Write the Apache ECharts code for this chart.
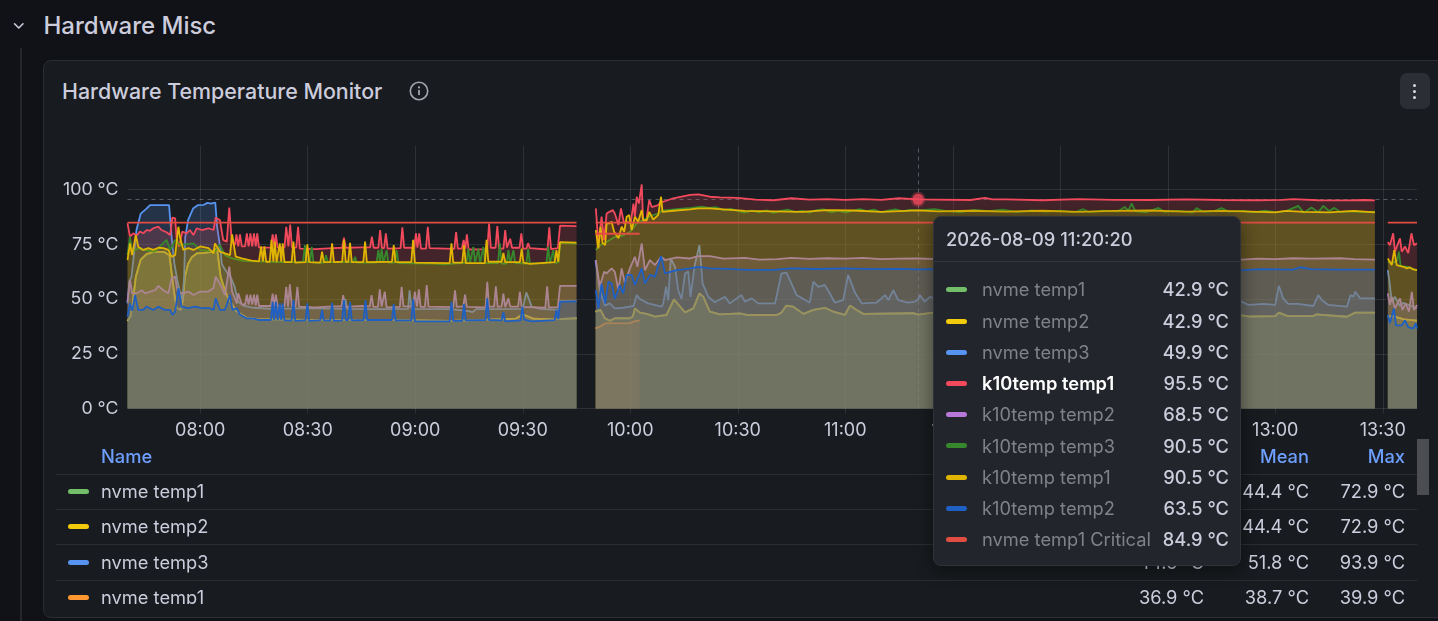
<!DOCTYPE html>
<html>
<head>
<meta charset="utf-8">
<script src="https://cdn.jsdelivr.net/npm/echarts@6/dist/echarts.min.js"></script>
<style>
html,body{margin:0;padding:0;width:1438px;height:621px;overflow:hidden;background:#111217;font-family:Inter,"Noto Sans",sans-serif;color:#ccccdc}
.abs{position:absolute}
#panel{left:43px;top:60px;width:1440px;height:556px;background:#181b1f;border:1px solid #2a2d32;border-radius:8px;box-sizing:content-box}
#chart{left:0;top:0;width:1438px;height:621px}
#tableClip{left:44px;top:440px;width:1373px;height:164px;overflow:hidden}
.cell{position:absolute;white-space:nowrap;font-size:18.3px;line-height:20px;color:#ccccdc}
.head{color:#6e9fff;font-weight:500}
.sw{position:absolute;width:21px;height:5px;border-radius:3px}
#tip{left:933px;top:216px;width:308px;height:350px;background:#22252b;border:1px solid #2f3238;border-radius:8px;box-shadow:0 4px 18px rgba(0,0,0,.45);box-sizing:border-box}
</style>
</head>
<body>
<div class="abs" style="left:20px;top:48px;width:2px;height:573px;background:#24262b"></div>
<svg class="abs" style="left:11px;top:18px" width="16" height="16" viewBox="0 0 16 16"><path d="M3.5 5.8 L7.8 10 L12 5.8" fill="none" stroke="#ccccdc" stroke-width="1.6" stroke-linecap="round" stroke-linejoin="round"/></svg>
<div class="abs" style="left:43.5px;top:11px;font-size:24px;line-height:29px;font-weight:500;color:#ccccdc">Hardware Misc</div>
<div class="abs" id="panel"></div>
<div class="abs" style="left:62px;top:78px;font-size:21.4px;line-height:26px;font-weight:500;color:#ccccdc">Hardware Temperature Monitor</div>
<svg class="abs" style="left:409px;top:81px" width="20" height="20" viewBox="0 0 20 20"><circle cx="10" cy="10" r="8.7" fill="none" stroke="#a5a6b0" stroke-width="1.6"/><circle cx="10" cy="6.4" r="1.1" fill="#a5a6b0"/><rect x="9.1" y="8.8" width="1.8" height="5.4" rx=".8" fill="#a5a6b0"/></svg>
<div class="abs" style="left:1400px;top:73px;width:30px;height:36px;border-radius:7px;background:#2b2e34"></div>
<div class="abs" style="left:1412.5px;top:84px;width:3px;height:3px;border-radius:2px;background:#d8d9e2"></div>
<div class="abs" style="left:1412.5px;top:90px;width:3px;height:3px;border-radius:2px;background:#d8d9e2"></div>
<div class="abs" style="left:1412.5px;top:96px;width:3px;height:3px;border-radius:2px;background:#d8d9e2"></div>
<div class="abs" id="chart"></div>
<div class="abs" id="tableClip"></div>
<div class="abs" style="left:1417px;top:439px;width:12px;height:56px;background:#4b4d53"></div>
<div class="abs" id="tip"></div>
<script>
// Values. Time is minutes after 08:00; each series has its three runs of data.
const axisStart = -20.3, axisEnd = 339.55;
const timeTicks = [0,30,60,90,120,150,180,210,240,270,300,330];
const timeTickLabels = ['08:00','08:30','09:00','09:30','10:00','10:30','11:00','11:30','12:00','12:30','13:00','13:30'];
const tempTicks = [0,25,50,75,100];

const nvmeTemp1 = [
 [-20.3,40,-19.5,42,-19,46,-18,60,-16.6,68,-15,70.5,-13,71.5,-10,71.5,-8.6,70,-8,62,-7.2,52,-6.6,46,-5.4,45,-4.8,50,-4.3,60,-3.4,66,-2.4,69,-1,70.8,1,71,3,71.5,4.7,72.9,5.7,60,6.5,56,7.6,51,10,44.5,12.8,41.5,16,40.8,30,40.5,50,40.5,70,40,85,40.8,88,41,90,43,93,41,98,40.7,100,40.8,100.5,41.2,105,41.2],
 [110.3,44.2,111.7,45,112.9,41.2,114.3,40,115.7,41.2,119.9,41.2,120.7,42,121.3,45.7,122.7,43.8,124.6,43.2,126.9,42,130.1,42.7,132.2,49.8,133.9,46.5,135.3,43.9,137.6,45.7,139.3,52.6,140.4,51,142.2,44.2,145,43,150.6,43.4,152.5,42.7,160.8,42.7,162.2,43.8,163.6,47,165.5,46.5,168.3,43.2,171.1,45,174.3,46,176.7,44.2,179.9,42.7,181.3,47,183.2,45,185,43.2,199,43.5,200.33,42.9,204.6,43.8,215,42.8,230,43.2,245,42.6,260,42.9,275,43.3,290.6,42.5,293,42,300,42.2,301,43.8,303.5,42.2,310.5,42.2,311.5,43,320,41.9,322.3,43.8,327.8,43.8],
 [331.4,42,333,42.2,334,41.6,336,40.7,339.55,40.1]
];
const nvmeTemp2 = nvmeTemp1;
const nvmeTemp3 = [
 [-20.3,48,-19.8,58,-19.2,60,-18.4,72,-17.8,81.5,-16.6,89,-15,91.3,-14,92.9,-8.7,92.9,-8,78.4,-7.2,66,-6.4,58.7,-5.5,52,-5,49.5,-4.5,60,-4.2,78,-3.4,86,-2,91.3,-0.6,92.9,1,93,2,93.9,3,93.5,4.2,94,4.7,83,5.7,72,6,66,7.6,61.7,8.5,60,9.6,55.6,10.5,49,12,47,15,46,20,45.5,30,45.8,40,45.5,40.5,50,41,45.5,50,45.4,58,45.5,58.4,54,59,45.5,70,45.4,75,44.5,76,44,77,45.4,90,45.5,91,53,92.5,46.5,95,45.5,100,45,100.4,49,105,49],
 [110.3,67.8,111.5,54,112.9,47,114.3,48,115.7,45.7,118,46,120.9,46.8,121.8,51.8,122.7,50,125,48,128.8,46.5,129.2,48,130,55.6,130.6,49.5,131.3,68.5,132.5,64.7,133.4,54,134.3,50,135.3,61.7,136.2,62.5,136.8,51,138,65.5,139.3,74.6,140.2,57,141.8,51,143.6,48.5,146.4,51,147.8,48,151,51.8,152,48.8,153.9,50.3,155.7,48,160.4,48,162.2,61.7,163.6,62,165,57,166.4,51.8,170.1,48.3,171.1,57.9,172.5,55.5,174.3,56.4,175.7,52.5,177.1,48.3,179.4,49.5,180.8,61,182.7,53,184.6,48,188.7,48.3,191.1,51.8,192,49.5,193.4,54,194.8,49.5,197.6,48.3,199.4,48.8,200.33,49.9,200.8,51.8,202.2,48.8,203.6,51,210,48,222,52,230,48.5,243,50,255,48,268,53,280,48,290.6,48.8,292.5,47.3,296.7,47.8,300,47.3,301,56,302.2,50.3,303.6,47.8,306.4,47.8,310.6,46.8,312,51.8,313,49.5,314.8,47.3,320,46.5,321,51.8,321.8,51,322.3,53.3,323.7,50.3,327.8,50.3],
 [331.4,63.2,331.8,58.7,332.5,48.8,333.4,51,334.8,46.8,335.8,48.3,339.55,45.7]
];
const nvmeTemp1Orange = [
 [],
 [110.3,36.6,111.7,37.5,113,38.9,119.9,39,121.3,39.9,122.6,40.1],
 []
];
const k10Temp1 = [
 [-20.3,84.6,-19.6,78.5,-18.7,80,-17.7,79,-16.8,80.8,-15.9,80,-15,81.5,-14,81.2,-13.1,82.3,-11.7,83,-10.8,81.5,-9.4,80.5,-8.4,79.2,-7.8,87.2,-7,86.8,-6.6,77.7,-5.9,73.9,-5,80.8,-3.8,80,-2.9,81.5,-1.9,79.2,-1,82.3,0.4,81.5,2.3,82.3,3.7,81.5,4.3,87.2,5.5,86,6.4,77,7.4,76.2,8.1,91.7,8.8,76,9.7,74.7,10.1,79.5,10.6,74,11.1,79.5,11.6,74,12.5,74,13,80,13.5,74,14,80,14.5,74,15,80,15.5,74,15.9,80,16.4,73.5,19.7,73.5,20.2,79.5,20.7,74,21.1,79.5,21.6,73.5,23.5,73.5,24,83,24.6,74,25.1,84,25.6,73.5,26.8,73.5,27.3,83,27.8,73,32,72.8,37,73.2,39.6,73.4,40.1,78,40.6,73.4,45,73.6,47.4,73.6,47.9,78.5,48.4,73.4,49.7,73.4,50.2,81.5,50.7,73.2,51.3,73.2,51.8,80,52.3,73,55.9,73.2,56.4,82.7,56.9,73.4,59.7,73.4,60.2,80,60.6,73.5,61.1,80,61.6,73,63,73,63.5,83,64,73.2,70.9,72.9,71.4,80.6,71.9,73,73,73,73.5,77,74,73,74.4,79.5,74.9,72.6,80.1,72.8,80.6,84.5,81.1,73.4,82.4,73.4,82.9,83.3,83.4,73,84.6,73,85.1,81.5,85.6,73.5,86,73.5,86.5,77.5,87,73.4,89.1,73.4,89.6,80,90.1,73,91,73,91.5,75.5,92,73.2,96.9,72.6,97.4,82.7,97.9,72.8,99.8,73.2,100.4,83.5,105,83.3],
 [110.4,91.4,111.1,75.4,112,87.6,112.7,76.9,113.4,89,114.2,89.8,115.1,90.6,115.7,89,116.7,83.8,117.4,91.4,118.3,84.5,119.2,85.3,120.1,84.5,120.9,93.6,121.3,87.6,121.8,96.7,122.4,93.6,123.2,102.3,123.6,85,124.4,85,125.3,95.2,126,92,127.8,92.9,128.5,94.4,129.2,94.4,132,96,136.7,97.5,139,97.8,142.2,96.7,145,96.4,150,96.2,155,95.4,160,95.1,165,96,170,95.4,175,95.6,180,95.3,185,95.6,190,95.3,195,96,200.33,95.5,205,95.4,215,95.2,219,96.2,221,95.5,225,95.5,235,95.1,245,95.6,255,95.3,265,95.2,275,95.5,285,95.2,295,95.1,302,95.3,305,95.6,312,95.1,320,95,325,95.2,327.8,95],
 [331.4,76,332,74.6,332.9,80,333.4,71.6,334.8,77.7,335.3,71.6,336.2,74,337.1,71,338,80,338.7,74.6,339.55,75.4]
];
const k10Temp2Purple = [
 [-20.3,48.8,-19.6,58.7,-19,52.6,-17.8,52.6,-16.3,54,-15.4,52.6,-14,53.4,-12.6,54,-11.7,56,-10.3,54,-8.9,52.6,-8,59.4,-7,60.2,-6.3,53.4,-5,52.6,-3.3,53.4,-1.9,51.8,0,53.4,2.3,53.4,3.7,55,4.3,60.2,5.5,57,6.9,51.8,8.1,64.8,8.9,53.4,10.2,48,10.6,52.6,11.1,52,11.6,47.5,12.5,47.5,13,52,13.5,47.5,14,52,14.5,47.5,15,52,15.5,47,15.9,52,16.4,46.8,19.7,46.8,20.2,52.5,20.7,46.6,21.1,52,21.6,46.6,23.5,46.6,24,55.6,24.5,46.5,25,56.7,25.6,46.6,26.6,46.6,27.1,55.6,27.6,46.5,32,46.2,37,46.6,39.4,46.6,39.9,51.8,40.4,46.4,45,46.8,47.3,46.6,47.8,51.8,48.3,46.4,49.6,46.4,50.1,54.4,50.6,46.6,51,46.6,51.5,53.3,52,46.2,55.7,46.4,56.2,55.6,56.7,46.6,59.4,46.6,59.9,53.3,60.5,46.5,61,54.4,61.5,46.4,62.7,46.4,63.2,56.4,63.7,46.5,70.6,46.3,71.1,54,71.6,46.4,73.4,46.6,73.9,52,74.4,46.4,79.6,46.2,80.1,57.9,80.6,46.5,82,46.5,82.5,55.8,83,46.4,84.1,46.6,84.6,52.5,85.1,46.3,85.5,46.3,86,50.3,86.5,46.5,88.7,46.5,89.2,53.3,89.7,46.4,96.3,46,96.8,55.8,97.3,46.2,99.8,46.3,100.4,56,105,56],
 [110.4,67.8,111.5,55.6,112.7,62.4,113.4,61.7,114.8,64,115.7,62.4,116.7,54,117.6,64,118.5,57.2,119.9,64,121.3,69.3,122,64.7,123.2,75.4,124.1,63.2,125.5,67.8,126.9,65.5,128.6,69.3,129.7,67.8,133,69,136.7,68.5,139,69.6,142.2,69.6,146,68.4,152,68.8,156,68,161,68.2,165,68.8,170,68.3,175,68.6,180,68.4,185,68.8,190,68.2,195,68.4,200.33,68.5,206,68.2,215,68.6,225,68.3,235,68.5,245,68.2,255,68.6,265,68.4,275,68.2,285,68.5,291,68,295,68.4,300,68.2,305,68.6,310,68.4,318,68.6,322,68.2,327.8,68],
 [331.4,52.6,332,47.3,332.5,51,333.4,45.7,334.8,50.3,335.5,45,336.4,48,337.3,44.2,338.1,53.3,338.7,45,339.55,47.3]
];
const k10Temp3 = [
 [-20.3,70,-19.6,78.5,-19,71.6,-17.3,73.2,-15.9,72.4,-12.7,71.6,-9.4,77,-8.4,72.4,-7,77,-5.6,74.7,-1.9,75.4,0,72.4,4.1,71.6,5.5,74.7,6.9,70,9,68.5,12,67.4,16,67.2,22,66.8,28.7,66.8,29.2,74.6,29.7,66.8,30.6,66.8,31.1,73.8,31.6,66.6,34.6,66.6,35.1,70,35.6,66.8,42.7,66.8,43.2,69.3,43.7,66.6,49.2,66.6,49.7,72.3,50.2,66.8,50.6,73,51.1,66.8,51.5,66.6,52,72.3,52.5,66.6,54.3,66.6,54.8,72.3,55.3,66.4,65,66.2,68,65.8,74.3,66.6,74.8,73,75.3,66.6,75.7,66.6,76.2,73.8,76.7,66.6,77.1,66.6,77.6,73,78.1,66.5,78.5,66.5,79,73.8,79.5,66.4,83.1,66.4,83.6,75.4,84.1,66.2,85.5,66.2,86,72.3,86.5,66.4,86.9,66.4,87.4,72.3,87.9,66.4,91,66.2,91.5,73,92,66.2,96.6,66.4,97.1,73.8,97.6,66.2,98,66.2,98.5,72.3,99,66.4,100,66.8,100.4,75.7,105,75.3],
 [110.4,72.3,111.5,74.5,113.4,76,115.7,78.4,118,79,120,80.7,121.8,84.5,123.6,86,125.5,87.9,127.8,89,128.8,90.3,133,91,137,91.6,140,92.2,142,91.6,144,91.9,146,90.6,148,91.2,150,90.2,152,89.5,154,90.4,156,89.6,158,90.5,160,89.3,162,90.2,164,90.8,166,89.7,168,90.2,170,89.4,172,90.6,174,90.9,176,89.6,178,90.3,180,89.5,182,90.2,184,91,186,90.1,188,90.8,190,89.6,192,90.4,194,90.9,196,90,198,90.7,200.33,90.5,205,91,208,90.2,212,89.6,216,90.7,220,90.1,224,90.8,228,89.7,232,90.5,236,89.9,240,90.4,244,89.6,246.4,91,248,89.7,252,90.3,256,90,258,92,259,90.5,259.9,93.6,261,90,264,89.6,267.4,91.6,269,89.8,273,90.2,277,89.5,278,91.5,280,89.8,283,90.1,285,91.5,287,89.9,291,90.2,294,89.6,297,90.3,300,89.7,303,90.1,306.4,92.5,308,89.4,310.1,91.8,312,89.6,313.4,92.5,315,90.2,316.5,91.6,318,89.8,321,90,324,89.7,327.8,89.9],
 [331.4,67,332.5,66.3,334,67.5,334.5,71.6,335,65,337,64.7,339.55,63]
];
const k10Temp1Gold = [
 [-20.3,67.8,-19.6,75.4,-19,70,-18,79.2,-17.3,73.9,-15.9,72.4,-14.5,73.2,-13.1,72.4,-11.7,73.4,-10.3,73.2,-8.9,72.4,-8,69.3,-7,70,-6.1,83,-5.6,77.7,-4.7,72.4,-3.3,73.2,-1.9,72.4,0,74,2.3,73.2,3.7,70.8,4.1,75.4,5.5,71.6,6.9,70.8,8.3,70,8.9,79.5,9.9,69.3,11.6,68.6,14.3,67.5,16.4,67.2,17,74,17.5,67.2,17.9,74,18.4,67,19.4,67,19.9,77,20.4,67,20.8,76.2,21.3,66.8,21.7,66.8,22.2,75.4,22.6,67,23,75.4,23.5,66.8,25.5,66.8,26,76.2,26.5,66.6,29.4,66.8,29.9,75,30.4,66.8,33.5,66.6,34,71.6,34.5,66.8,36.3,66.8,36.8,75.4,37.3,66.8,39.6,67,40.1,77,40.6,67,41.3,67,41.8,75.7,42.3,66.8,45.5,66.8,46,76.2,46.5,66.8,53.5,67,54,74.6,54.5,66.8,58.9,66.8,59.4,77,59.9,66.6,69.6,66.4,70.1,75.4,70.6,66.6,73.1,66.6,73.6,74.6,74.1,66.4,79.4,66.4,79.9,77,80.4,67,84.1,67,84.6,71,85.1,66.8,89.2,66.8,89.7,73,90.2,66.6,92,66,98.9,66.8,99.4,72.3,99.9,67,100.4,76,105,75.7],
 [110.4,81.5,111.1,73.1,111.7,83,112.3,75.4,113,74.6,113.4,84.5,114.2,84.5,114.8,85.3,115.5,80.7,116.7,77.7,117.6,83,118.3,80.7,119,87.6,119.7,88.3,120.4,81.5,121.3,87.6,122.2,85.3,123.2,90.6,123.6,86,124.6,86,125.3,89.8,126.4,86.3,127.8,88.3,128.6,96.7,129,89.8,132,90.3,136.7,90.9,139,91.4,142.2,91.4,147,90.8,152,90.2,160,90,168,89.8,175,90.6,182,90.4,190,89.8,200.33,90.5,206,90,215,90.3,225,89.9,235,90.3,245,89.8,255,90.2,265,90.4,275,89.9,285,90.2,291,90,300,89.6,303,90.2,308,89.8,315,89.6,322,90.2,327.8,89.6],
 [331.4,68.5,332.5,65.5,333.2,72.3,333.9,65.5,335.8,64.7,336.7,64,337.6,64.4,338.5,63.5,339.55,63.2]
];
const k10Temp2Blue = [
 [-20.3,42,-19.6,48,-19,44.6,-18.2,51.8,-17.3,45,-15.9,45,-15,46.5,-13.1,45,-11.7,46.5,-9.8,45,-8.4,45,-7.8,42.7,-7,44.2,-6.1,54.9,-5.2,46.5,-3.3,45.8,-1.5,46.5,0.4,45.8,2.7,45.8,3.7,45,4.3,50.3,5.5,45,6.9,45,8.3,51.8,9,45,10.2,45.8,11,43,12.8,41.2,15,41,16.5,40.4,19.7,40.4,20.2,48.7,20.6,40.4,21.1,48.7,21.6,40.4,21.8,40.4,22.2,48,22.6,40.4,23,48,23.5,40.2,25.5,40.2,26,49.5,26.5,40,29.4,40.4,29.9,48,30.4,40,33.5,40.4,34,45,34.5,40.2,36.3,40.2,36.8,48.3,37.3,40,39.6,40.2,40.1,49.5,40.6,40.4,41.3,40.4,41.8,48.7,42.3,40.2,45.6,40.4,46.1,49.5,46.6,40.4,53.5,40.4,54,47.7,54.5,40.2,58.9,40.2,59.4,49.8,59.9,39.8,69.6,39.8,70.1,48.7,70.6,40,73.1,40,73.6,47.7,74.1,40.2,79.6,40.4,80.1,50.3,80.6,40.4,84.1,40.2,84.6,44,85.1,39.8,89.4,40.2,89.9,46.5,90.4,40.6,92.5,39.8,98.9,40.4,99.4,45,99.9,40.8,100.4,48.7,105,48.9],
 [110.4,54,111.1,45.7,112,57,113,48,113.9,57.9,114.8,57.2,115.7,50,117.1,56.4,118,52.6,119,61,120.4,61,121.3,56.4,123.2,64,124.1,57,125.5,61,126.9,60.2,128.6,69.6,129.7,61.7,133,63.2,136.7,64,139,64.7,142.2,64,147,63.8,153,63.3,160,63.3,165,64,172,63.7,180,64,188,63.6,195,63.8,200.33,63.5,207,63.7,218,63.5,228,63.8,240,63.4,252,63.6,265,63.8,278,63.4,291,63.2,296,63.6,305,63.4,307,64.5,310,63.6,318,63.4,327.8,63.4],
 [331.4,42.7,332,39,333.1,45.7,333.7,38,335.3,38,336.2,40.2,337.1,37.2,338.5,36.5,339.2,39,339.55,36.5]
];
const critical = [
 [-20.3,84.9,105,84.9],
 [110.3,84.9,327.8,84.9],
 [331.4,84.9,339.55,84.9]
];
const criticalOrange = [
 [],
 [110.3,79.8,122.6,79.8],
 []
];
const hoverMinute = 200.33;
const hoverValue = 95.5;

const seriesNames = ['nvme temp1','nvme temp2','nvme temp3','nvme temp1','k10temp temp1','k10temp temp2','k10temp temp3','k10temp temp1','k10temp temp2','nvme temp1 Critical','nvme temp1 Critical'];
const seriesColors = ['#73BF69','#F2CC0C','#5794F2','#FF9830','#F2495C','#B877D9','#37872D','#E0B400','#1F60C4','#E24D42','#E24D42'];
const seriesValues = [nvmeTemp1,nvmeTemp2,nvmeTemp3,nvmeTemp1Orange,k10Temp1,k10Temp2Purple,k10Temp3,k10Temp1Gold,k10Temp2Blue,critical,criticalOrange];
const seriesFilled = [true,true,true,true,true,true,true,true,true,false,false];

const tableHeader = ['Name','Min','Mean','Max'];
const tableNames = ['nvme temp1','nvme temp2','nvme temp3','nvme temp1'];
const tableColors = ['#73BF69','#F2CC0C','#5794F2','#FF9830'];
const tableMin = ['40.9 °C','40.9 °C','44.6 °C','36.9 °C'];
const tableMean = ['44.4 °C','44.4 °C','51.8 °C','38.7 °C'];
const tableMax = ['72.9 °C','72.9 °C','93.9 °C','39.9 °C'];

const tipTitle = '2026-08-09 11:20:20';
const tipNames = ['nvme temp1','nvme temp2','nvme temp3','k10temp temp1','k10temp temp2','k10temp temp3','k10temp temp1','k10temp temp2','nvme temp1 Critical'];
const tipColors = ['#73BF69','#F2CC0C','#5794F2','#F2495C','#B877D9','#37872D','#E0B400','#1F60C4','#E24D42'];
const tipValues = ['42.9 °C','42.9 °C','49.9 °C','95.5 °C','68.5 °C','90.5 °C','90.5 °C','63.5 °C','84.9 °C'];
const tipFocus = 3;

function buildData(runs){
  const out = [];
  runs.forEach(run => {
    if (!run.length) return;
    if (out.length) out.push([run[0] - 0.01, null]);
    for (let i = 0; i < run.length; i += 2) out.push([run[i], run[i+1]]);
  });
  return out;
}
const gridColor = 'rgba(240,250,255,0.10)';
const series = seriesNames.map((name,i) => ({
  name, type:'line', z:i+2, showSymbol:false, symbol:'none', connectNulls:false, silent:true, animation:false,
  data: buildData(seriesValues[i]),
  lineStyle:{color:seriesColors[i], width:1.8},
  itemStyle:{color:seriesColors[i]},
  areaStyle: seriesFilled[i] ? {color:seriesColors[i], opacity:0.2} : undefined
}));
series.push({
  name:'hover', type:'scatter', z:30, silent:true, animation:false,
  data:[[hoverMinute, hoverValue]],
  symbolSize:11,
  itemStyle:{color:'#F2495C', borderColor:'rgba(242,73,92,0.4)', borderWidth:4},
  markLine:{silent:true, symbol:'none', animation:false, label:{show:false},
    lineStyle:{color:'rgba(220,225,235,0.32)', type:[4,4], width:1},
    data:[{xAxis:hoverMinute},{yAxis:hoverValue}]}
});
const chart = echarts.init(document.getElementById('chart'), null, {renderer:'canvas'});
chart.setOption({
  backgroundColor:'transparent', animation:false,
  textStyle:{fontFamily:'Inter'},
  grid:{left:127.5, top:145.7, width:1289.5, height:262.8, containLabel:false},
  xAxis:{type:'value', min:axisStart, max:axisEnd, scale:true,
    axisLine:{show:false},
    axisTick:{show:true, length:5, customValues:timeTicks, lineStyle:{color:gridColor}},
    axisLabel:{customValues:timeTicks, color:'#ccccdc', fontSize:18, fontFamily:'Inter', margin:13, hideOverlap:false, showMinLabel:true, showMaxLabel:true,
      formatter:v=>timeTickLabels[timeTicks.indexOf(v)]},
    splitLine:{show:true, customValues:timeTicks, lineStyle:{color:gridColor, width:1}}},
  yAxis:{type:'value', min:0, max:120,
    axisLine:{show:false},
    axisTick:{show:false, customValues:tempTicks},
    axisLabel:{customValues:tempTicks, color:'#ccccdc', fontSize:17.8, fontFamily:'Inter', margin:9, formatter:v=>v+' °C'},
    splitLine:{show:true, customValues:tempTicks, lineStyle:{color:gridColor, width:1}}},
  series
});

// table
const tbl = document.getElementById('tableClip');
function cell(parent, text, x, y, right, cls, style){
  const d = document.createElement('div');
  d.className = 'cell ' + (cls||'');
  d.textContent = text;
  if (right) d.style.right = (right) + 'px'; else d.style.left = x + 'px';
  d.style.top = y + 'px';
  if (style) Object.assign(d.style, style);
  parent.appendChild(d);
}
const colRight = [0, 1417-1204, 1417-1309, 1417-1405];
cell(tbl, tableHeader[0], 57, 6, 0, 'head');
cell(tbl, tableHeader[1], 0, 6, colRight[1], 'head');
cell(tbl, tableHeader[2], 0, 6, colRight[2], 'head');
cell(tbl, tableHeader[3], 0, 6, colRight[3], 'head');
const rowY = [41, 76, 112, 147];
[33.5,69,104,139.5].forEach(y => { const l = document.createElement('div'); l.className='abs'; Object.assign(l.style,{left:'12px',top:y+'px',width:'1361px',height:'1px',background:'#2a2d32'}); tbl.appendChild(l); });
tableNames.forEach((n,i)=>{
  const sw = document.createElement('div'); sw.className='sw'; sw.style.left='24px'; sw.style.top=(rowY[i]+8)+'px'; sw.style.background=tableColors[i]; tbl.appendChild(sw);
  cell(tbl,n,57,rowY[i]);
  cell(tbl,tableMin[i],0,rowY[i],colRight[1]);
  cell(tbl,tableMean[i],0,rowY[i],colRight[2]);
  cell(tbl,tableMax[i],0,rowY[i],colRight[3]);
});

// hover card
const tip = document.getElementById('tip');
const tipY = [62,94,125,156,187,218.5,250,281,312];
cell(tip, tipTitle, 12, 12, 0, '', {fontSize:'18.3px', fontWeight:'500', lineHeight:'20px'});
const sep = document.createElement('div'); sep.className='abs'; Object.assign(sep.style,{left:0,top:'44px',width:'306px',height:'1px',background:'#32353b'}); tip.appendChild(sep);
tipNames.forEach((n,i)=>{
  const sw = document.createElement('div'); sw.className='sw'; sw.style.left='12px'; sw.style.top=(tipY[i]+7.5)+'px'; sw.style.background=tipColors[i]; tip.appendChild(sw);
  const focus = i===tipFocus;
  cell(tip,n,48,tipY[i],0,'',{color:focus?'#ffffff':'#7f828b',fontWeight:focus?'600':'400'});
  cell(tip,tipValues[i],0,tipY[i],11,'',{fontWeight:'500'});
});
</script>
</body>
</html>
